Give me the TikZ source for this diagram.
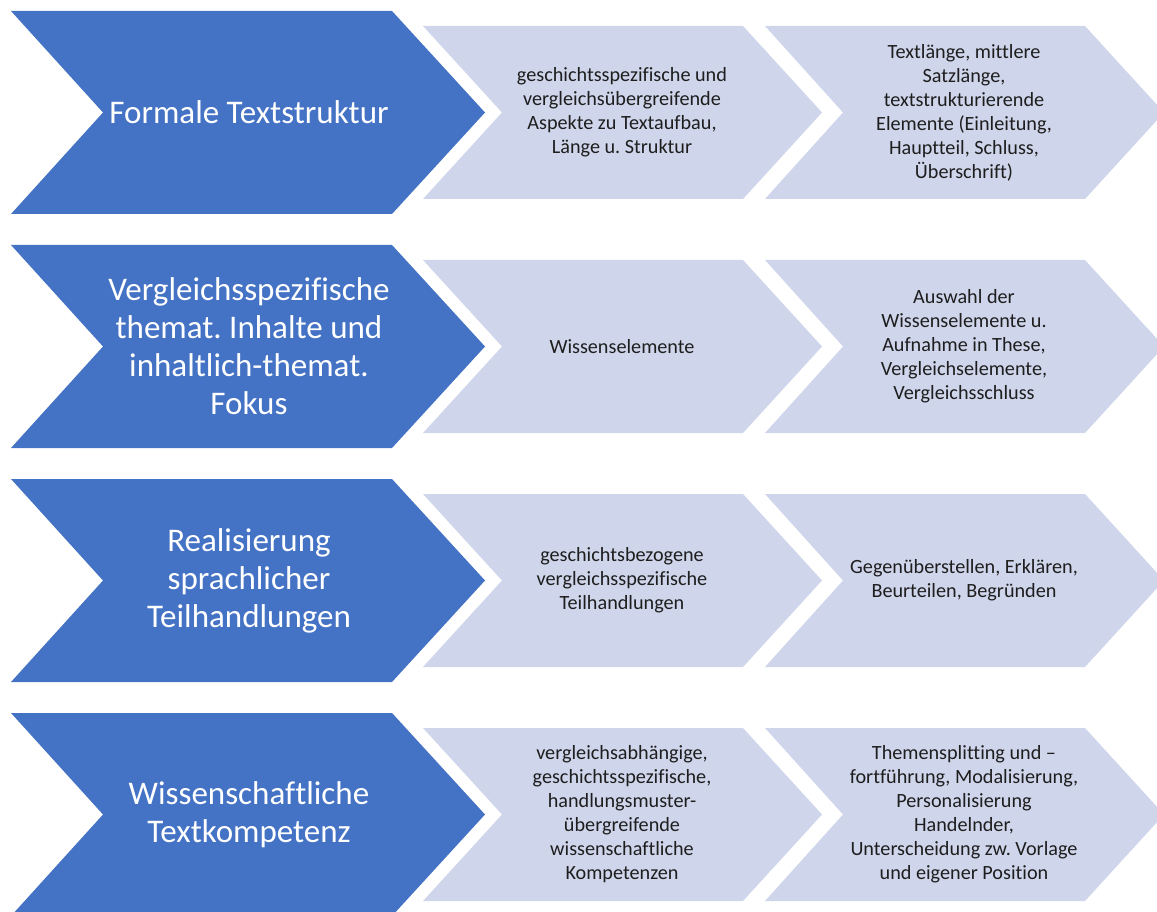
\documentclass[tikz,border=0pt]{standalone}
\usepackage{fontspec}
\setmainfont{Carlito}[Ligatures={NoCommon}]
\frenchspacing
\usepackage{tikz}
\usetikzlibrary{positioning}
\definecolor{stageblue}{RGB}{68, 114, 196}
\definecolor{lavender}{RGB}{207, 213, 234}
\definecolor{inkgrey}{RGB}{30, 30, 30}

\begin{document}
\begin{tikzpicture}[
        x = 0.02cm, y = -0.02cm,
        stage/.style = {fill=stageblue},
        detail/.style = {fill=lavender},
        headtext/.style = {text=white, inner sep=0pt, align=center, font=\fontsize{18.8}{21.6}\selectfont},
        bodytext/.style = {text=inkgrey, inner sep=0pt, align=center, font=\fontsize{11.5}{13.65}\selectfont}
    ]
        \clip [use as bounding box] (0,0) rectangle (1157,912);

        % Chevrons
        \foreach \t in {11, 245, 479, 713} {
            \fill [stage] (11,\t) -- (392,\t) -- (485,{\t+101.5}) -- (392,{\t+203}) -- (11,{\t+203}) -- (103,{\t+101.5}) -- cycle;
            \fill [detail] (423,{\t+15}) -- (743,{\t+15}) -- (822,{\t+101.5}) -- (743,{\t+188}) -- (423,{\t+188}) -- (502,{\t+101.5}) -- cycle;
            \fill [detail] (765,{\t+15}) -- (1085,{\t+15}) -- (1164,{\t+101.5}) -- (1085,{\t+188}) -- (765,{\t+188}) -- (843,{\t+101.5}) -- cycle;
        }

        % Nodes
        \node [headtext] (form) at (249,112.5) {Formale Textstruktur};
        \node [bodytext] (formA) at (622,112.5) {geschichtsspezifische und\\vergleichsübergreifende\\Aspekte zu Textaufbau,\\Länge u. Struktur};
        \node [bodytext] (formB) at (964,112.5) {Textlänge, mittlere\\Satzlänge,\\textstrukturierende\\Elemente (Einleitung,\\Hauptteil, Schluss,\\Überschrift)};

        \node [headtext] (inhalt) at (249,346.5) {Vergleichsspezifische\\themat. Inhalte und\\inhaltlich-themat.\\Fokus};
        \node [bodytext] (inhaltA) at (622,346.5) {Wissenselemente};
        \node [bodytext] (inhaltB) at (964,346.5) {Auswahl der\\Wissenselemente u.\\Aufnahme in These,\\Vergleichselemente,\\Vergleichsschluss};

        \node [headtext] (sprache) at (249,580.5) {Realisierung\\sprachlicher\\Teilhandlungen};
        \node [bodytext] (spracheA) at (622,580.5) {geschichtsbezogene\\vergleichsspezifische\\Teilhandlungen};
        \node [bodytext] (spracheB) at (964,580.5) {Gegenüberstellen, Erklären,\\Beurteilen, Begründen};

        \node [headtext] (kompetenz) at (249,814.5) {Wissenschaftliche\\Textkompetenz};
        \node [bodytext] (kompetenzA) at (622,814.5) {vergleichsabhängige,\\geschichtsspezifische,\\handlungsmuster-\\übergreifende\\wissenschaftliche\\Kompetenzen};
        \node [bodytext] (kompetenzB) at (964,814.5) {Themensplitting und --\\fortführung, Modalisierung,\\Personalisierung\\Handelnder,\\Unterscheidung zw. Vorlage\\und eigener Position};
    \end{tikzpicture}
\end{document}
